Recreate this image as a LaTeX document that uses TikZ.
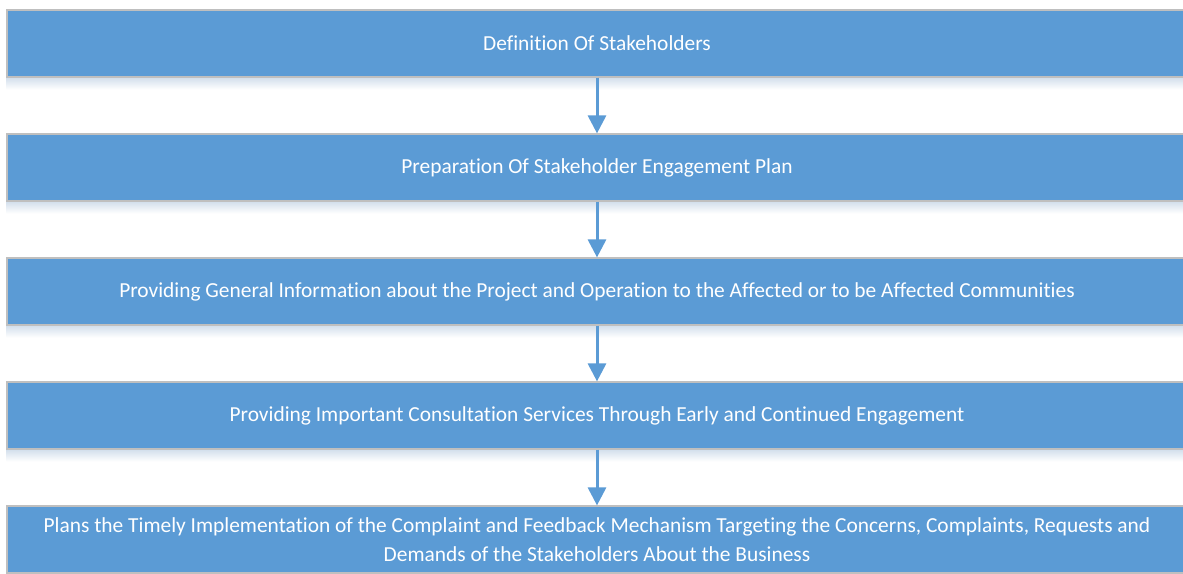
\documentclass[tikz,border=0pt]{standalone}
\usepackage{fontspec}
\setmainfont{Carlito}[Ligatures={NoCommon,NoContextual}]
\usepackage{xcolor}
\usepackage{tikz}
\usetikzlibrary{positioning,arrows.meta,backgrounds}
\definecolor{stageblue}{HTML}{5B9BD5}
\definecolor{edgegrey}{HTML}{BFBFBF}
\definecolor{shadeblue}{HTML}{D3DFEC}
\tikzset{
  stage/.style={rectangle, draw=edgegrey, fill=stageblue, line width=1.2pt,
                minimum width=1180pt, minimum height=67pt, align=center,
                text=white, font=\fontsize{21.4}{29}\selectfont, inner sep=4pt},
  flow/.style={-{Triangle[length=18pt,width=18pt]}, line width=3pt, draw=stageblue},
  glow/.style={top color=shadeblue, bottom color=white, draw=none},
}

\begin{document}
\begin{tikzpicture}[x=1pt, y=1pt]
  \useasboundingbox (0,0) rectangle (1183,-573);

  % the five stages
  \node[stage] (s1) at (597,-43.5) {Definition Of Stakeholders};
  \node[stage] (s2) at (597,-167.5) {Preparation Of Stakeholder Engagement Plan};
  \node[stage] (s3) at (597,-291.5) {Providing General Information about the Project and Operation to the Affected or to be Affected Communities};
  \node[stage] (s4) at (597,-415.5) {Providing Important Consultation Services Through Early and Continued Engagement};
  \node[stage] (s5) at (597,-539.5) {Plans the Timely Implementation of the Complaint and Feedback Mechanism Targeting the Concerns, Complaints, Requests and\\Demands of the Stakeholders About the Business};

  % soft shade under each box
  \begin{scope}[on background layer]
    \shade[glow] (s1.south west) rectangle ++(1180,-12);
    \shade[glow] (s2.south west) rectangle ++(1180,-12);
    \shade[glow] (s3.south west) rectangle ++(1180,-12);
    \shade[glow] (s4.south west) rectangle ++(1180,-12);
  \end{scope}

  % arrows
  \draw[flow] (s1) -- (s2);
  \draw[flow] (s2) -- (s3);
  \draw[flow] (s3) -- (s4);
  \draw[flow] (s4) -- (s5);
\end{tikzpicture}
\end{document}
